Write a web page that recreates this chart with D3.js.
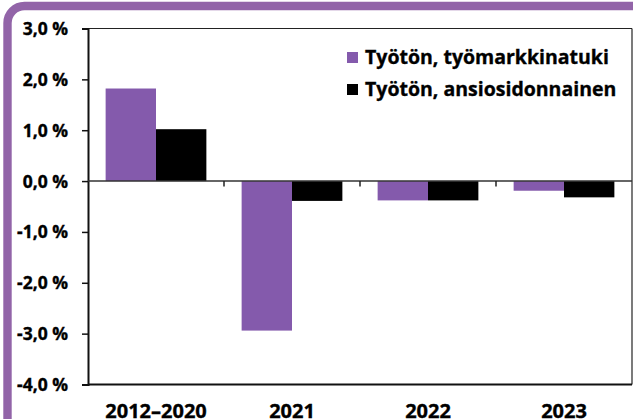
<!DOCTYPE html>
<html><head><meta charset="utf-8">
<script src="https://cdn.jsdelivr.net/npm/d3@7"></script>
<style>
html,body{margin:0;padding:0;background:#fff;}
svg{display:block;}
text{font-family:"Open Sans",Lato,sans-serif;font-weight:bold;fill:#000;stroke:#000;stroke-width:0.35px;}
</style></head><body>
<script>
const categories = ["2012–2020", "2021", "2022", "2023"];
const seriesNames = ["Työtön, työmarkkinatuki", "Työtön, ansiosidonnainen"];
const tyomarkkinatuki = [1.82, -2.94, -0.38, -0.19];
const ansiosidonnainen = [1.02, -0.39, -0.38, -0.32];
const yTicks = [3, 2, 1, 0, -1, -2, -3, -4];
const colors = ["#845aac", "#000000"];

(function () {
const W = 633, H = 419;
const svg = d3.select("body").append("svg").attr("width", W).attr("height", H);

// frame
svg.append("rect").attr("x", 7.5).attr("y", 6).attr("width", 800).attr("height", 600)
  .attr("rx", 17).attr("fill", "#fff").attr("stroke", "#9264a8").attr("stroke-width", 8.4);

const pL = 88, pR = 632, pT = 28.5, pB = 384.5;
const y = d3.scaleLinear().domain([-4, 3]).range([pB, pT]);
const x = d3.scaleBand().domain(categories).range([pL, pR]).paddingInner(0).paddingOuter(0);
const inner = d3.scaleBand().domain([0, 1]).range([0, x.bandwidth()]).paddingInner(0).paddingOuter(0.35);

const series = [tyomarkkinatuki, ansiosidonnainen];

// plot frame (top, right)
svg.append("line").attr("x1", pL).attr("x2", pR).attr("y1", pT).attr("y2", pT).attr("stroke", "#222").attr("stroke-width", 1.2);
svg.append("line").attr("x1", pR).attr("x2", pR).attr("y1", pT).attr("y2", pB).attr("stroke", "#222").attr("stroke-width", 1.2);

// bars
series.forEach((vals, si) => {
  svg.append("g").selectAll("rect").data(vals).join("rect")
    .attr("x", (d, i) => x(categories[i]) + inner(si))
    .attr("width", inner.bandwidth())
    .attr("y", d => y(Math.max(0, d)))
    .attr("height", d => Math.abs(y(d) - y(0)))
    .attr("fill", colors[si]);
});

// bottom line
svg.append("line").attr("x1", pL).attr("x2", pR).attr("y1", pB).attr("y2", pB).attr("stroke", "#111").attr("stroke-width", 2);

// y axis
const yAxis = d3.axisLeft(y).tickValues(yTicks).tickSize(6).tickPadding(14)
  .tickFormat(d => d3.format(".1f")(d).replace(".", ",").replace("−", "-") + " %");
const gy = svg.append("g").attr("transform", `translate(${pL},0)`).call(yAxis);
gy.select(".domain").attr("stroke", "#111").attr("stroke-width", 2);
gy.selectAll(".tick line").attr("stroke", "#111").attr("stroke-width", 1.5);
gy.selectAll(".tick text").style("font-size", "17.5px").style("font-family", "Open Sans").style("font-weight", "bold").attr("dy", "0.34em");

// zero line with category ticks
svg.append("line").attr("x1", pL).attr("x2", pR).attr("y1", y(0)).attr("y2", y(0)).attr("stroke", "#333").attr("stroke-width", 1.5);
svg.append("g").selectAll("line").data(categories.slice(1)).join("line")
  .attr("x1", d => x(d)).attr("x2", d => x(d))
  .attr("y1", y(0)).attr("y2", y(0) + 5.5).attr("stroke", "#222").attr("stroke-width", 1.5);

// x labels
const xAxis = d3.axisBottom(x).tickSize(0).tickPadding(0);
const gx = svg.append("g").attr("transform", `translate(0,${pB})`).call(xAxis);
gx.select(".domain").remove();
gx.selectAll(".tick text").attr("y", 33).attr("dy", 0).style("font-size", "20px").style("font-family", "Open Sans").style("font-weight", "bold");

// legend
const leg = svg.append("g").attr("transform", "translate(347,0)");
seriesNames.forEach((n, i) => {
  const yy = 52 + i * 32;
  leg.append("rect").attr("x", 0).attr("y", yy).attr("width", 11).attr("height", 11).attr("fill", colors[i]);
  leg.append("text").attr("x", 18).attr("y", yy + 12).text(n).style("font-size", "19.5px");
});
})();
</script>
</body></html>
